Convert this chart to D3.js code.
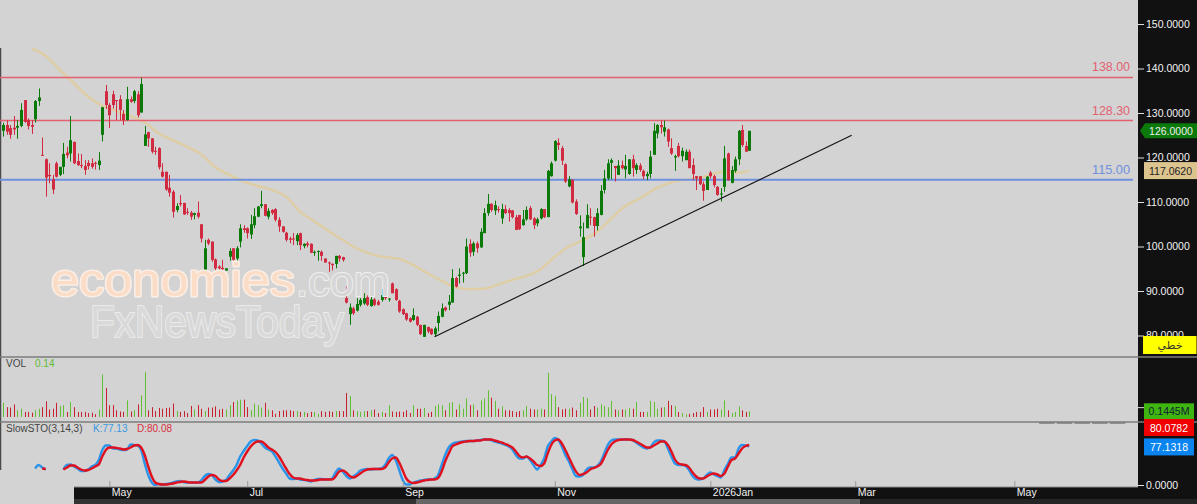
<!DOCTYPE html>
<html>
<head>
<meta charset="utf-8">
<script src="https://cdn.jsdelivr.net/npm/d3@7"></script>
<style>
  html, body { margin: 0; padding: 0; background: #d3d3d3; overflow: hidden; }
  svg { display: block; font-family: "Liberation Sans", Arial, sans-serif; }
</style>
</head>
<body>
<div id="chart"></div>
<script>
// open, high, low, close per daily bar
const candles = [
[126.0,127.8,124.7,127.3],[127.3,128.3,125.1,125.8],[126.6,127.3,124.2,125.1],[126.7,129.3,125.1,126.3],[126.7,128.4,124.2,127.1],
[127.1,132.2,126.8,130.7],[132.9,132.9,127.8,128.0],[128.4,128.8,126.3,127.1],[127.3,128.4,125.3,126.9],[128.6,132.9,127.8,132.7],
[132.7,135.5,131.6,133.5],[120.6,124.5,120.4,120.4],[119.6,119.8,111.2,115.5],[116.1,118.7,114.2,115.8],[115.1,116.1,111.8,112.8],
[118.7,119.1,115.5,115.7],[116.1,117.9,115.8,117.9],[117.9,123.3,116.3,120.8],[121.1,122.4,119.8,120.5],[120.9,129.3,119.1,123.9],
[123.5,123.6,118.5,118.7],[119.2,120.9,118.1,118.3],[118.3,120.8,117.6,118.1],[118.1,119.4,116.1,117.2],[118.8,119.4,117.3,118.1],
[118.7,119.8,117.5,117.9],[118.8,119.1,117.3,118.7],[118.3,121.2,117.2,119.3],[125.1,131.4,123.6,131.3],[134.9,136.3,130.9,131.8],
[131.8,132.2,126.6,129.5],[134.2,135.0,131.0,131.8],[132.9,132.9,128.4,132.7],[133.1,134.0,128.4,130.7],[129.8,130.7,127.3,128.4],
[128.4,135.9,128.3,133.1],[133.1,133.7,132.3,132.5],[132.7,135.2,132.2,134.9],[134.2,134.9,129.0,129.5],[130.1,137.9,130.1,136.5],
[122.6,127.1,122.6,125.2],[125.7,125.8,122.4,124.3],[124.3,124.3,120.9,121.3],[121.5,122.4,120.6,121.3],[122.1,122.3,117.3,117.8],
[116.8,118.7,115.5,115.7],[116.8,116.8,112.5,112.8],[113.2,116.1,111.2,112.1],[112.3,112.7,106.5,107.8],[108.2,109.7,107.7,109.1],
[109.8,111.6,109.0,109.5],[109.8,109.8,107.1,107.2],[107.8,108.6,107.1,107.6],[107.6,108.0,106.0,106.7],[107.1,107.6,106.1,107.5],
[107.6,110.1,106.3,106.7],[105.0,105.0,100.9,101.8],[94.3,101.5,93.8,99.6],[101.5,101.8,100.3,100.7],[101.1,101.1,96.6,97.0],
[97.1,97.3,94.6,95.1],[95.5,95.8,94.6,95.1],[95.2,97.0,94.6,94.9],[94.6,95.1,94.6,95.1],[97.7,99.6,96.8,99.0],
[99.6,99.6,96.8,97.0],[97.3,100.1,96.8,99.6],[101.1,105.0,99.8,104.1],[104.1,104.8,103.1,103.7],[104.1,104.3,101.8,103.0],
[102.7,107.1,101.7,105.0],[104.8,108.6,104.1,106.8],[106.7,109.1,106.6,109.0],[109.1,112.5,108.6,109.5],[109.5,109.5,106.8,106.9],
[106.7,108.6,106.1,108.0],[108.2,108.4,107.1,107.5],[108.4,108.6,105.6,106.0],[106.0,106.6,103.3,104.5],[104.5,104.6,103.1,103.3],
[103.1,103.3,101.1,101.5],[101.8,102.2,100.7,101.5],[101.8,103.0,100.3,101.6],[101.2,103.0,100.3,102.6],[103.0,103.1,99.2,100.3],
[100.1,100.7,99.6,100.6],[100.7,101.1,99.8,100.3],[100.6,100.7,98.5,98.6],[98.6,99.1,97.9,98.8],[98.8,99.1,96.8,99.0],
[98.8,99.1,96.8,97.9],[97.3,97.3,96.4,96.4],[96.4,96.6,94.3,96.2],[96.1,96.2,94.6,95.8],[96.1,97.9,95.1,97.9],
[97.9,98.1,96.6,97.3],[97.6,97.7,96.6,97.0],[88.4,91.0,87.2,87.4],[84.8,87.2,82.4,86.3],[86.1,86.5,84.6,85.0],
[85.6,88.4,85.4,87.1],[86.9,88.4,86.5,88.0],[87.2,89.5,86.9,88.4],[88.6,89.0,86.6,86.9],[86.6,89.5,86.5,88.1],
[88.1,88.4,86.6,86.9],[87.6,88.0,86.7,86.9],[88.0,90.4,87.6,89.1],[89.1,89.5,88.0,88.4],[88.1,88.4,87.6,88.3],
[91.7,91.9,89.5,89.5],[90.4,90.6,87.8,88.0],[87.8,88.0,85.1,85.4],[85.9,86.1,84.6,84.8],[85.0,85.1,83.3,83.6],
[83.9,84.1,82.9,83.1],[83.5,86.1,83.3,84.6],[84.2,84.4,82.1,82.4],[82.4,82.4,80.1,80.3],[79.7,82.4,79.7,82.4],
[81.9,82.0,80.5,80.9],[81.5,81.6,80.1,80.3],[80.3,82.0,79.7,81.6],[82.8,85.4,80.9,84.4],[84.2,87.2,84.1,86.1],
[86.3,86.5,85.4,85.7],[86.9,89.1,85.7,87.6],[87.4,94.9,87.4,92.9],[92.9,93.2,90.8,91.0],[93.4,95.1,91.7,93.7],
[94.0,94.3,91.9,94.1],[94.0,101.8,93.8,100.0],[100.6,101.6,97.7,98.6],[98.8,101.1,97.9,100.7],[100.7,101.1,98.6,99.6],
[99.8,104.1,99.7,103.3],[103.0,108.6,103.0,107.5],[107.5,111.8,106.9,109.6],[109.6,109.7,107.8,108.2],[108.1,110.3,107.1,109.3],
[108.4,109.0,107.6,108.2],[106.3,109.6,105.1,108.4],[108.4,109.3,107.3,107.5],[108.2,108.6,105.6,107.5],[108.1,108.2,106.3,106.6],
[106.6,107.1,103.7,103.7],[107.1,107.1,103.7,103.9],[104.8,108.2,104.7,106.1],[106.1,109.0,105.8,108.2],[108.6,109.1,106.0,106.1],
[106.3,106.6,103.9,104.8],[105.2,106.5,104.5,106.1],[106.3,108.6,106.1,108.4],[108.4,108.4,106.4,106.6],[106.6,117.2,106.6,117.0],
[115.8,119.1,115.7,118.7],[119.3,123.9,119.1,123.7],[123.3,124.3,121.7,122.8],[122.1,122.6,118.3,119.3],[118.5,118.7,114.3,114.6],
[113.5,115.8,113.3,115.1],[115.0,115.1,109.7,109.9],[110.1,110.6,107.1,107.3],[104.1,107.0,102.2,104.5],[97.6,105.4,95.6,102.1],
[104.1,109.5,104.1,107.1],[106.7,108.6,104.8,106.6],[106.6,106.7,102.2,104.6],[104.6,108.6,103.6,107.5],[107.1,113.8,107.0,112.5],
[112.7,117.2,111.9,115.3],[115.3,119.6,114.9,118.7],[118.8,119.8,115.1,119.4],[118.1,118.1,114.6,117.6],[116.1,119.4,116.1,118.2],
[118.3,119.3,117.3,117.6],[117.3,120.6,115.3,118.1],[116.3,119.6,116.1,119.6],[119.6,120.6,115.7,117.6],[117.2,118.7,116.3,118.3],
[118.2,118.7,116.8,117.2],[117.0,117.3,115.1,115.8],[115.8,116.8,114.9,116.3],[116.3,121.5,115.3,120.2],[120.6,127.7,120.6,126.0],
[125.4,127.5,124.3,127.3],[127.3,128.3,125.4,126.8],[125.8,128.3,124.7,126.8],[126.3,126.5,122.4,123.6],[122.1,124.3,120.6,120.9],
[120.0,120.6,117.0,120.3],[122.6,123.3,120.0,120.3],[120.3,122.2,119.1,121.5],[119.4,121.8,119.4,121.3],[121.3,121.8,117.6,117.6],
[118.3,119.8,114.9,116.3],[115.8,115.8,112.7,115.3],[115.8,115.8,113.8,114.0],[114.0,114.6,110.3,112.5],[112.7,115.8,112.7,115.7],
[116.6,117.0,115.3,115.8],[115.8,116.1,113.3,113.8],[113.4,113.6,111.4,111.6],[111.8,113.1,110.1,111.9],[113.4,122.6,112.3,119.8],
[120.9,121.1,114.8,114.9],[114.3,118.1,114.2,117.2],[117.0,120.2,116.6,119.6],[119.6,126.2,118.3,126.0],[126.2,127.3,122.4,122.8],
[122.6,123.6,121.3,121.3],[121.5,126.0,121.5,126.0]
];

// volume in millions
const volumes = [
.36,.25,.24,.32,.17,.21,.13,.13,.11,.17,
.21,.25,.40,.19,.21,.36,.28,.30,.13,.38,
.25,.13,.13,.13,.10,.11,.07,.19,1.08,.74,
.30,.30,.17,.14,.13,.42,.14,.17,.32,.55,
1.14,.17,.25,.15,.23,.21,.23,.24,.34,.15,
.13,.15,.10,.28,.19,.30,.21,.15,.24,.24,
.27,.19,.21,.19,.30,.38,.42,.44,.44,.25,
.17,.34,.30,.24,.36,.19,.17,.08,.15,.17,
.17,.17,.15,.15,.13,.13,.10,.13,.13,.08,
.15,.13,.15,.13,.15,.15,.15,.61,.53,.17,
.15,.13,.15,.15,.17,.19,.10,.13,.10,.30,
.14,.13,.14,.13,.17,.10,.30,.21,.21,.23,
.10,.13,.28,.32,.30,.17,.36,.38,.19,.32,
.21,.47,.30,.32,.17,.42,.47,.68,.49,.41,
.21,.27,.17,.17,.15,.13,.15,.17,.28,.21,
.19,.19,.21,.19,1.12,.58,.53,.25,.19,.21,
.21,.24,.17,.36,.51,.48,.19,.28,.24,.32,
.28,.25,.41,.19,.17,.19,.19,.23,.21,.38,
.13,.13,.13,.41,.38,.21,.24,.25,.41,.30,
.28,.13,.10,.07,.08,.10,.13,.13,.25,.13,
.19,.19,.21,.19,.42,.17,.10,.13,.27,.17,
.13,.1445
];

const stochK = [
null,null,null,null,null,null,null,null,null,33,
40,35,31,null,null,null,null,31,40,41,
37,33,28,28,31,37,40,50,70,79,
79,73,73,71,70,71,81,80,79,70,
43,20,5,0,2,1,2,3,5,7,
8,6,5,5,5,5,9,18,22,20,
11,6,7,10,20,29,40,57,68,78,
87,90,89,83,75,71,67,57,45,33,
23,13,12,13,11,10,9,7,10,12,
12,11,11,13,25,33,27,18,13,17,
22,29,31,32,31,32,32,33,40,53,
60,50,30,10,1,1,5,7,9,10,
11,11,13,20,40,60,75,82,85,86,
87,88,88,88,89,90,91,91,90,87,
85,83,80,77,71,60,53,53,57,50,
40,31,40,53,77,87,94,90,77,60,
47,31,18,17,20,31,35,35,38,47,
63,80,89,91,91,91,91,91,90,85,
80,75,73,75,85,89,89,87,73,57,
43,40,40,38,30,18,12,11,13,20,
25,21,18,15,30,43,55,55,73,80,
79,77.13
];

const stochD = [
null,null,null,null,null,null,null,null,null,null,
null,33,32,null,null,null,null,31,35,39,
39,35,31,29,30,33,37,41,57,70,
75,75,74,73,71,72,75,79,80,75,
60,37,17,5,2,1,1,2,3,5,
6,7,6,5,5,5,5,10,17,20,
18,11,8,8,13,20,29,40,55,67,
77,84,87,87,82,75,71,66,57,45,
33,22,15,13,13,11,10,9,9,10,
11,11,11,11,17,27,29,25,18,15,
18,23,28,31,32,32,32,32,35,45,
53,55,45,29,13,6,4,5,7,9,
10,11,11,14,27,47,63,77,81,84,
86,87,88,88,89,89,91,91,91,89,
87,85,82,79,75,67,58,55,57,53,
47,40,38,43,63,80,89,91,83,70,
55,40,27,20,22,25,31,34,37,42,
55,70,81,87,90,91,91,91,90,87,
83,79,75,75,79,83,87,87,80,67,
51,43,41,40,35,25,17,13,13,17,
21,23,21,18,23,37,50,53,63,73,
78,80.08
];

// moving average, sampled on bar numbers
const maBars = [8,12,16,20,24,28,32,36,40,44,48,52,56,60,64,68,72,76,80,84,88,92,96,100,104,108,112,116,120,124,128,132,136,140,144,148,152,156,160,163,168,172,176,180,184,188,192,196,200,204,208,211];
const maValues = [144.5,142.8,139.7,136.7,133.7,131.6,130.5,129.3,127.9,125.4,123.9,122.4,120.7,117.8,116.1,114.6,113.6,112.7,111.2,107.8,105.7,103.5,101.5,99.6,98.3,97.6,97.2,95.8,94.0,92.3,90.8,90.4,90.5,91.5,92.5,93.4,94.9,97.7,100.0,101.1,103.3,106.3,109.1,110.8,112.8,114.2,114.9,115.3,116.1,116.8,116.6,117.06];

const levels = [138, 128.3, 115];
const levelColors = ["#e2606f", "#e2606f", "#6f8fdf"];
const trendBars = [122, 240];
const trendValues = [79.7, 125];

const priceTicks = [80, 90, 100, 110, 120, 130, 140, 150];
const monthBars = [30, 69, 113, 156, 200, 241, 286];
const monthLabels = ["May", "Jul", "Sep", "Nov", "2026Jan", "Mar", "May"];
const dashBars = [293, 298, 303, 308, 313];

const width = 1197, height = 504;
const green = "#0b7a0b", red = "#d02b40";

const x = d3.scaleLinear().domain([0, 337]).range([3.3, 1194.6]);
const priceY = d3.scaleLinear().domain([80, 150]).range([335.5, 24]);
const volY = d3.scaleLinear().domain([0, 1]).range([417, 377.6]);
const stochY = d3.scaleLinear().domain([0, 100]).range([485, 435]);

const svg = d3.select("#chart").append("svg")
  .attr("width", width)
  .attr("height", height);

svg.append("rect").attr("width", width).attr("height", height).attr("fill", "#d3d3d3");

const defs = svg.append("defs");
defs.append("clipPath").attr("id", "stochClip").append("rect")
  .attr("x", 0).attr("y", 423).attr("width", 1138).attr("height", 64);

// left edge line
svg.append("line").attr("x1", 0.5).attr("x2", 0.5).attr("y1", 48).attr("y2", 470)
  .attr("stroke", "#4a4a4a").attr("stroke-width", 1.5);

// moving average under the candles
svg.append("path")
  .datum(maBars.map((b, i) => [b, maValues[i]]))
  .attr("fill", "none")
  .attr("stroke", "#dfcda4")
  .attr("stroke-width", 2.4)
  .attr("d", d3.line().x(d => x(d[0])).y(d => priceY(d[1])).curve(d3.curveMonotoneX));

// horizontal levels
svg.selectAll(".level").data(levels).join("line")
  .attr("class", "level")
  .attr("x1", 0).attr("x2", 1133)
  .attr("y1", d => priceY(d)).attr("y2", d => priceY(d))
  .attr("stroke", (d, i) => levelColors[i])
  .attr("stroke-width", (d, i) => i === 2 ? 2 : 1.5);

svg.selectAll(".levelLabel").data(levels).join("text")
  .attr("class", "levelLabel")
  .attr("x", 1130).attr("y", d => priceY(d) - 6)
  .attr("text-anchor", "end")
  .attr("font-size", 13.5)
  .attr("textLength", 38)
  .attr("lengthAdjust", "spacingAndGlyphs")
  .attr("fill", (d, i) => levelColors[i])
  .text(d => d.toFixed(2));

// candles
const bars = svg.append("g").selectAll("g").data(candles).join("g")
  .attr("fill", d => d[3] >= d[0] ? green : red)
  .attr("stroke", d => d[3] >= d[0] ? green : red);

bars.append("line")
  .attr("x1", (d, i) => Math.round(x(i)) + 0.5)
  .attr("x2", (d, i) => Math.round(x(i)) + 0.5)
  .attr("y1", d => priceY(d[1]))
  .attr("y2", d => priceY(d[2]))
  .attr("stroke-width", 1);

bars.append("rect")
  .attr("x", (d, i) => Math.round(x(i)) - 1)
  .attr("width", 3)
  .attr("y", d => priceY(Math.max(d[0], d[3])))
  .attr("height", d => Math.max(1, Math.abs(priceY(d[0]) - priceY(d[3]))))
  .attr("stroke", "none");

// trend line
svg.append("line")
  .attr("x1", x(trendBars[0])).attr("y1", priceY(trendValues[0]))
  .attr("x2", x(trendBars[1])).attr("y2", priceY(trendValues[1]))
  .attr("stroke", "#111").attr("stroke-width", 1.1);

// watermark
const wm = svg.append("g").attr("stroke-linejoin", "round").style("paint-order", "stroke");
wm.append("text").attr("x", 51).attr("y", 296)
  .attr("font-size", 47)
  .attr("textLength", 244).attr("lengthAdjust", "spacingAndGlyphs")
  .attr("fill", "#fbdcc6").attr("stroke", "#faeee6").attr("stroke-width", 3)
  .text("economies");
wm.append("text").attr("x", 296).attr("y", 296)
  .attr("font-size", 42)
  .attr("textLength", 94).attr("lengthAdjust", "spacingAndGlyphs")
  .attr("fill", "#d6d6d6").attr("stroke", "#f0f0f0").attr("stroke-width", 2)
  .text(".com");
const fx = wm.append("text").attr("x", 90).attr("y", 337)
  .attr("font-size", 45)
  .attr("textLength", 254).attr("lengthAdjust", "spacingAndGlyphs")
  .attr("fill", "#d9d9d9").attr("stroke", "#ebebeb").attr("stroke-width", 2.2)
  .text("FxNewsToday");

// volume pane
svg.selectAll(".vol").data(volumes).join("rect")
  .attr("class", "vol")
  .attr("x", (d, i) => Math.round(x(i)))
  .attr("width", 1)
  .attr("y", d => volY(d))
  .attr("height", d => volY(0) - volY(d))
  .attr("fill", (d, i) => candles[i][3] >= candles[i][0] ? "#62bf33" : "#c8202f");

// stochastic pane
const stochLine = d3.line()
  .defined(d => d !== null)
  .x((d, i) => x(i))
  .y(d => stochY(d))
  .curve(d3.curveMonotoneX);

const stoch = svg.append("g").attr("clip-path", "url(#stochClip)");
stoch.append("path").datum(stochK)
  .attr("fill", "none").attr("stroke", "#2a94ea").attr("stroke-width", 2.4)
  .attr("d", stochLine);
stoch.append("path").datum(stochD)
  .attr("fill", "none").attr("stroke", "#e0101f").attr("stroke-width", 2.4)
  .attr("d", stochLine);

svg.selectAll(".dash").data(dashBars).join("line")
  .attr("class", "dash")
  .attr("x1", d => x(d)).attr("x2", d => x(d + 4.4))
  .attr("y1", stochY(124)).attr("y2", stochY(124))
  .attr("stroke", "#666").attr("stroke-width", 1.2);

// pane titles
const title = (tx, ty, txt, color) => svg.append("text")
  .attr("x", tx).attr("y", ty).attr("font-size", 10).attr("fill", color).text(txt);
title(6, 367, "VOL", "#444");
title(35, 367, "0.14", "#62bb33");
title(6, 432, "SlowSTO(3,14,3)", "#444");
title(93, 432, "K:77.13", "#3a98e0");
title(137, 432, "D:80.08", "#d8303f");

// price axis area
svg.append("rect").attr("x", 1138).attr("y", 0).attr("width", 59).attr("height", 499).attr("fill", "#111");

// pane separators
[357, 422].forEach(py => svg.append("line")
  .attr("x1", 0).attr("x2", width).attr("y1", py).attr("y2", py)
  .attr("stroke", "#7d7d7d").attr("stroke-width", 1.3));

// bottom strip, under the axes so their labels stay whole
svg.append("rect").attr("x", 74).attr("y", 487).attr("width", 1123).attr("height", 12).attr("fill", "#111");
svg.append("rect").attr("x", 74).attr("y", 499).attr("width", 342).attr("height", 5).attr("fill", "#333");
svg.append("rect").attr("x", 416).attr("y", 499).attr("width", 444).attr("height", 5).attr("fill", "#666");
svg.append("rect").attr("x", 860).attr("y", 499).attr("width", 337).attr("height", 5).attr("fill", "#242424");
svg.append("line").attr("x1", 74).attr("x2", 1138).attr("y1", 487).attr("y2", 487)
  .attr("stroke", "#8a8a8a").attr("stroke-width", 1);

const styleAxis = g => {
  g.select(".domain").remove();
  g.selectAll(".tick line").attr("stroke", "#ddd");
  g.selectAll(".tick text").attr("fill", "#f2f2f2").attr("font-size", 10.5)
    .attr("font-family", '"Liberation Sans", Arial, sans-serif');
};

svg.append("g")
  .attr("transform", "translate(1138,0)")
  .call(d3.axisRight(priceY).tickValues(priceTicks).tickSize(6).tickPadding(2).tickFormat(d3.format(".4f")))
  .call(styleAxis);

svg.append("g")
  .attr("transform", "translate(1138,0)")
  .call(d3.axisRight(stochY).tickValues([0]).tickSize(6).tickPadding(2).tickFormat(d3.format(".4f")))
  .call(styleAxis);

svg.append("g")
  .attr("transform", "translate(1138,0)")
  .call(d3.axisRight(volY).tickValues([0.25]).tickSize(6).tickFormat(""))
  .call(styleAxis);

svg.append("g")
  .attr("transform", "translate(0,487)")
  .call(d3.axisBottom(x).tickValues(monthBars).tickSizeInner(-6).tickSizeOuter(0)
    .tickFormat((d, i) => monthLabels[i]))
  .call(styleAxis)
  .call(g => {
    g.selectAll(".tick line").attr("stroke", "#999");
    g.selectAll(".tick text").attr("text-anchor", "start").attr("x", 2).attr("y", 2).attr("dy", "0.71em");
  });

// value flags on the axis
const lastPrice = candles[candles.length - 1][3];
const lastMa = 117.062, lastVol = 0.1445, lastD = 80.0782, lastK = 77.1318;

svg.append("path")
  .attr("d", d3.line()([[1140, priceY(lastPrice)], [1145, priceY(lastPrice) - 7.5], [1197, priceY(lastPrice) - 7.5], [1197, priceY(lastPrice) + 7.5], [1145, priceY(lastPrice) + 7.5]]))
  .attr("fill", green);

const flag = (fy, h, fill, color, txt, x0 = 1144, w = 50) => {
  svg.append("rect").attr("x", x0).attr("y", fy).attr("width", w).attr("height", h).attr("fill", fill);
  svg.append("text").attr("x", x0 + w / 2).attr("y", fy + h / 2 + 4)
    .attr("text-anchor", "middle").attr("font-size", 10.5).attr("fill", color).text(txt);
};

svg.append("text").attr("x", 1171).attr("y", priceY(lastPrice) + 4)
  .attr("text-anchor", "middle").attr("font-size", 10.5).attr("fill", "#eee").text(lastPrice.toFixed(4));
flag(priceY(lastMa) - 8.5, 17, "#dcc48e", "#222", lastMa.toFixed(4), 1144, 53);
flag(volY(lastVol) - 8, 16, "#3fb510", "#123", lastVol.toFixed(4) + "M");
flag(419, 17, "#f00000", "#fff", lastD.toFixed(4));
flag(stochY(lastK) - 8, 17, "#0a84ee", "#fff", lastK.toFixed(4));

svg.append("rect").attr("x", 1143).attr("y", 336).attr("width", 53.5).attr("height", 18).attr("fill", "#ffff00");
svg.append("text").attr("x", 1170).attr("y", 349)
  .attr("text-anchor", "middle").attr("font-size", 11)
  .attr("font-family", '"DejaVu Sans", sans-serif').attr("fill", "#333").text("خطي");
</script>
</body>
</html>
